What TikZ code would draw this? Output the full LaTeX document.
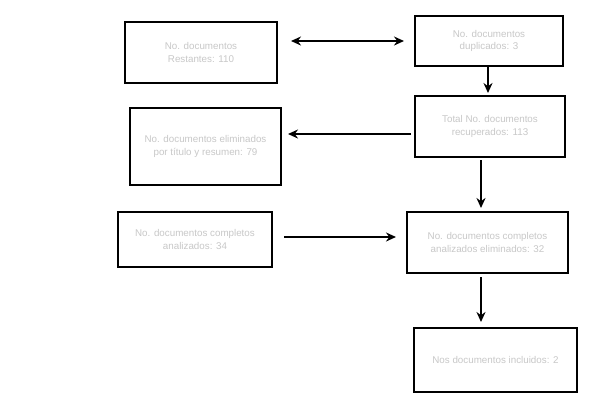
\documentclass[tikz,border=0pt]{standalone}
\usepackage{fontspec}
\setmainfont{Liberation Sans}
\usetikzlibrary{arrows.meta,calc}
\definecolor{txtgray}{RGB}{200,200,200}
\tikzset{
  box/.style={draw=black, line width=2pt, fill=white, align=center, inner sep=2pt,
    font=\fontsize{9.8}{12.5}\selectfont, text=txtgray},
  conn/.style={line width=2.4pt, -{Stealth[length=10pt,width=9pt]}},
  dconn/.style={line width=2.4pt, {Stealth[length=10pt,width=9pt]}-{Stealth[length=10pt,width=9pt]}}
}
\begin{document}
\begin{tikzpicture}[x=1pt,y=-1pt]
\useasboundingbox (0,0) rectangle (590,408);
\node[box, minimum width=152pt, minimum height=61pt] (b1) at (201,52.5) {No. documentos\\Restantes: 110};
\node[box, minimum width=148pt, minimum height=50pt] (b2) at (489,41) {No. documentos\\duplicados: 3};
\node[box, minimum width=151pt, minimum height=77pt] (b3) at (205.5,146.5) {No. documentos eliminados\\por título y resumen: 79};
\node[box, minimum width=150pt, minimum height=61pt] (b4) at (490,126.5) {Total No. documentos\\recuperados: 113};
\node[box, minimum width=154pt, minimum height=55pt] (b5) at (195,239.5) {No. documentos completos\\analizados: 34};
\node[box, minimum width=161pt, minimum height=61pt] (b6) at (487.5,242.5) {No. documentos completos\\analizados eliminados: 32};
\node[box, minimum width=163pt, minimum height=64pt] (b7) at (495.5,360) {Nos documentos incluidos: 2};
\draw[dconn] ($(b1.east)+(13,-11.5)$) -- ($(b2.west)+(-10,0)$);
\draw[conn] ($(b2.south)+(-1,0)$) -- ($(b4.north)+(-2,-2)$);
\draw[conn] ($(b4.west)+(-3,7.5)$) -- ($(b3.east)+(6,-12.5)$);
\draw[conn] ($(b4.south)+(-9,2)$) -- ($(b6.north)+(-6.5,-3)$);
\draw[conn] ($(b5.east)+(11,-2.5)$) -- ($(b6.west)+(-10,-5.5)$);
\draw[conn] ($(b6.south)+(-6.5,3)$) -- ($(b7.north)+(-14.5,-5)$);
\end{tikzpicture}
\end{document}
